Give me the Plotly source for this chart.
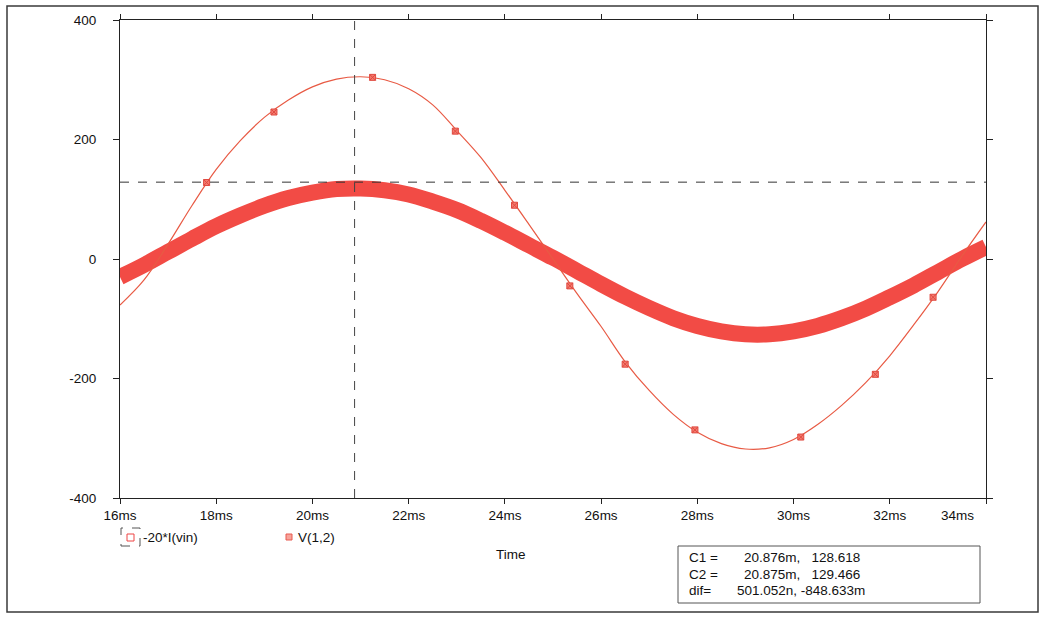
import plotly.graph_objects as go

# ---- data ----
time_ms = [16.0, 16.5, 17.0, 17.5, 18.0, 18.5, 19.0, 19.5, 20.0, 20.5, 21.0, 21.5,
           22.0, 22.5, 23.0, 23.5, 24.0, 24.5, 25.0, 25.5, 26.0, 26.5, 27.0, 27.5,
           28.0, 28.5, 29.0, 29.5, 30.0, 30.5, 31.0, 31.5, 32.0, 32.5, 33.0, 33.5, 34.0]

i_vin_x20 = [-30, -10, 12, 34, 55, 73, 89, 102, 111, 117, 118, 115,
             108, 96, 82, 64, 44, 23, 2, -20, -42, -63, -82, -99,
             -112, -121, -126, -126, -121, -112, -99, -83, -64, -44, -22, 0, 20]

v12 = [-77, -35, 25, 90, 150, 198, 237, 266, 288, 301, 305, 300,
       285, 258, 215, 170, 115, 58, 0, -58, -113, -172, -220, -260,
       -290, -309, -318, -316, -302, -277, -245, -207, -162, -110, -55, 5, 62]

v12_marker_t = [17.8, 19.2, 21.25, 22.97, 24.2, 25.35, 26.5, 27.95, 30.15, 31.7, 32.9]
v12_marker_v = [128, 246, 304, 214, 90, -45, -176, -286, -298, -193, -64]

x_tick_vals = [16, 18, 20, 22, 24, 26, 28, 30, 32, 34]
x_tick_text = ["16ms", "18ms", "20ms", "22ms", "24ms", "26ms", "28ms", "30ms", "32ms", ""]
y_tick_vals = [-400, -200, 0, 200, 400]
y_tick_text = ["-400", "-200", "0", "200", "400"]

cursor_t = 20.876
cursor_v = 128.618
cursor_labels = ["C1 =", "C2 =", "dif="]
cursor_values = ["20.876m,   128.618", "20.875m,   129.466", "501.052n, -848.633m"]

FONT = "Arial Narrow, Liberation Sans Narrow, Liberation Sans, Arial, sans-serif"
BAND = "#f24b45"
LINE = "#e85a44"

W, H = 1041, 617
L, R, T, B = 120, 55, 20, 119
PW, PH = W - L - R, H - T - B


def px(x):
    return (x - L) / PW


def py(y):
    return (H - B - y) / PH


fig = go.Figure()

fig.add_trace(go.Scatter(x=time_ms, y=i_vin_x20, mode="lines",
                         line=dict(color=BAND, width=16, shape="spline", smoothing=1.0),
                         name="-20*I(vin)"))
fig.add_trace(go.Scatter(x=time_ms, y=v12, mode="lines",
                         line=dict(color=LINE, width=1.2, shape="spline", smoothing=1.0),
                         name="V(1,2)"))
fig.add_trace(go.Scatter(x=v12_marker_t, y=v12_marker_v, mode="markers",
                         marker=dict(symbol="square-x", size=6, color="#f47a6e",
                                     line=dict(color="#e04a40", width=1)),
                         showlegend=False))

shapes = []
# cursor cross
shapes.append(dict(type="line", xref="x", yref="y", x0=cursor_t, x1=cursor_t, y0=-400, y1=400,
                   line=dict(color="#444444", width=1, dash="dash")))
shapes.append(dict(type="line", xref="x", yref="y", x0=16, x1=34, y0=cursor_v, y1=cursor_v,
                   line=dict(color="#333333", width=1, dash="dash")))
# outer frame
shapes.append(dict(type="rect", xref="paper", yref="paper", x0=px(7), x1=px(1038),
                   y0=py(612), y1=py(6), line=dict(color="#3a3a3a", width=1.5), layer="below"))
# legend symbols
shapes.append(dict(type="rect", xref="paper", yref="paper", x0=px(121), x1=px(140),
                   y0=py(546), y1=py(528), line=dict(color="#555555", width=1, dash="dash")))
shapes.append(dict(type="rect", xref="paper", yref="paper", x0=px(127), x1=px(134),
                   y0=py(541), y1=py(534), line=dict(color="#ee4444", width=1)))
shapes.append(dict(type="rect", xref="paper", yref="paper", x0=px(286), x1=px(292),
                   y0=py(540), y1=py(534), line=dict(color="#e85a50", width=1),
                   fillcolor="#f7a39a"))
# cursor box
shapes.append(dict(type="rect", xref="paper", yref="paper", x0=px(678), x1=px(980),
                   y0=py(603), y1=py(546), line=dict(color="#555555", width=1)))

annotations = []


def text(x, y, s, xanchor="left", size=13.5):
    annotations.append(dict(xref="paper", yref="paper", x=px(x), y=py(y), text=s,
                            showarrow=False, xanchor=xanchor, yanchor="middle",
                            font=dict(family=FONT, size=size, color="#111111")))


text(141, 537, "-20*I(vin)")
text(296, 537, "V(1,2)")
text(511, 554, "Time", xanchor="center")
text(957, 515, "34ms", xanchor="center")

row_y = [557, 574, 590]
for lab, val, yy in zip(cursor_labels, cursor_values, row_y):
    text(687, yy, lab)
    text(742 if lab != "dif=" else 735, yy, val.replace(" ", "&nbsp;"))

fig.update_layout(
    width=W, height=H,
    margin=dict(l=L, r=R, t=T, b=B),
    paper_bgcolor="white", plot_bgcolor="white",
    showlegend=False,
    shapes=shapes, annotations=annotations,
    font=dict(family=FONT, size=13.5, color="#111111"),
    xaxis=dict(range=[16, 34], tickvals=x_tick_vals, ticktext=x_tick_text,
               showline=True, linecolor="#222222", linewidth=1, mirror="ticks",
               ticks="outside", ticklen=5, tickcolor="#222222",
               showgrid=False, zeroline=False, tickfont=dict(family=FONT, size=13.5)),
    yaxis=dict(range=[-400, 400], tickvals=y_tick_vals, ticktext=y_tick_text,
               showline=True, linecolor="#222222", linewidth=1, mirror="ticks",
               ticks="outside", ticklen=6, tickcolor="#222222", ticklabelstandoff=14,
               showgrid=False, zeroline=False, tickfont=dict(family=FONT, size=13.5)),
)

fig.write_html("out.html")
